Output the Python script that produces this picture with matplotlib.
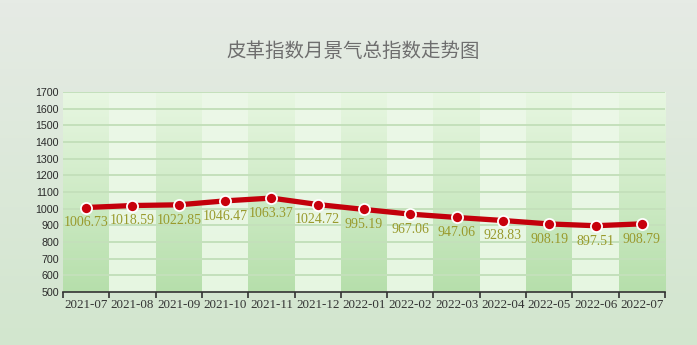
"""Leather index monthly prosperity chart."""

import matplotlib

matplotlib.use("Agg")
import matplotlib.pyplot as plt
import numpy as np
from matplotlib.colors import to_rgb

months = [
    "2021-07", "2021-08", "2021-09", "2021-10", "2021-11", "2021-12", "2022-01",
    "2022-02", "2022-03", "2022-04", "2022-05", "2022-06", "2022-07",
]
values = [
    1006.73, 1018.59, 1022.85, 1046.47, 1063.37, 1024.72, 995.19,
    967.06, 947.06, 928.83, 908.19, 897.51, 908.79,
]
y_ticks = list(range(500, 1800, 100))
title = "皮革指数月景气总指数走势图"


def vertical_gradient(top, bottom, n=100):
    top = np.array(to_rgb(top))
    bottom = np.array(to_rgb(bottom))
    t = np.linspace(0, 1, n)[:, None]
    return (top * (1 - t) + bottom * t)[:, None, :]


fig = plt.figure(figsize=(6.97, 3.45), dpi=100)

# figure background
bg = fig.add_axes([0, 0, 1, 1])
bg.imshow(vertical_gradient("#e6ebe5", "#d2e6ce"), aspect="auto", extent=[0, 1, 0, 1])
bg.set_axis_off()

fig.text(0.507, 0.85, title, ha="center", va="center", fontsize=14, color="#6e6e6e",
         family=["Noto Sans CJK SC", "DejaVu Sans"])

ax = fig.add_axes([0.0904, 0.1536, 0.8637, 0.58])
ax.patch.set_alpha(0)

dark = vertical_gradient("#e8f7e2", "#b6dfab")
light = vertical_gradient("#ecf8e8", "#e6f6e1")
for i in range(len(months)):
    grad = dark if i % 2 == 0 else light
    ax.imshow(grad, aspect="auto", extent=[i - 0.5, i + 0.5, 500, 1700], zorder=0)
ax.set_xlim(-0.5, len(months) - 0.5)
ax.set_ylim(500, 1700)

for yv in y_ticks[1:]:
    ax.axhline(yv, color="#c4e0bb", lw=1.4, zorder=1)

x = np.arange(len(months))
ax.plot(x, values, color="#c3000b", lw=3.8, zorder=3, solid_capstyle="round")
ax.plot(x, values, "o", ms=8, mfc="#c8000c", mec="white", mew=1.3, zorder=4)

for xi, v in zip(x, values):
    ax.annotate(f"{v:.2f}", (xi, v), xytext=(0, -11), textcoords="offset points",
                ha="center", va="center", fontsize=10, color="#999a2c",
                family="Liberation Serif", zorder=5)

for side in ["top", "right", "left"]:
    ax.spines[side].set_visible(False)
ax.spines["bottom"].set_color("#333333")
ax.spines["bottom"].set_linewidth(1.2)

ax.set_yticks(y_ticks)
ax.set_yticklabels([str(t) for t in y_ticks], fontsize=7.7, color="#2a2a2a",
                   family="Liberation Sans")
ax.tick_params(axis="y", length=0, pad=3)

ax.set_xticks(np.arange(-0.5, len(months), 1.0))
ax.set_xticklabels([])
ax.set_xticks(x, minor=True)
ax.set_xticklabels(months, minor=True, fontsize=9.4, color="#333333", family="Liberation Serif")
ax.tick_params(axis="x", which="major", length=4, width=1.2, color="#333333", direction="out")
ax.tick_params(axis="x", which="minor", length=0, pad=5)

fig.savefig("out.png", dpi=100)
